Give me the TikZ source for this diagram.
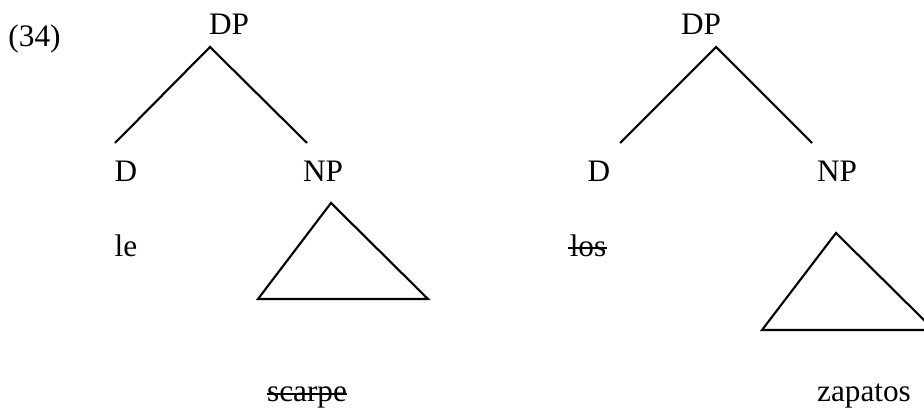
\documentclass[tikz,border=0pt]{standalone}
\usepackage{fontspec}
\setmainfont{Liberation Serif}
\usepackage{tikz}

\tikzset{
  cat/.style={font=\fontsize{12.5}{14}\selectfont, anchor=base, inner sep=0pt},
  branch/.style={line width=0.85pt},
  strk/.style={line width=0.7pt}
}

\begin{document}
\begin{tikzpicture}[x=0.4pt,y=-0.4pt]
    \useasboundingbox (0,0) rectangle (924,410);
    \node[cat,anchor=base west] (ex) at (8,47) {(34)};
    % left tree
    \node[cat] (dpL) at (229,35) {DP};
    \node[cat] (dL) at (126,182) {D};
    \node[cat] (npL) at (323,182) {NP};
    \node[cat] (le) at (126,257) {le};
    \node[cat] (scarpe) at (307,402) {scarpe};
    \coordinate (topL) at (210,47);
    \coordinate (endDL) at (115,143);
    \coordinate (endNL) at (307,143);
    \draw[branch] (endDL) -- (topL) -- (endNL);
    \draw[branch] (331,203) -- (258,299) -- (428,299) -- cycle;
    \draw[strk] ([yshift=3.3pt]scarpe.base west) -- ([yshift=3.3pt]scarpe.base east);
    % right tree
    \node[cat] (dpR) at (701,35) {DP};
    \node[cat] (dR) at (599,182) {D};
    \node[cat] (npR) at (837,182) {NP};
    \node[cat] (los) at (588,257) {los};
    \node[cat] (zapatos) at (864,402) {zapatos};
    \coordinate (topR) at (716,47);
    \coordinate (endDR) at (620,143);
    \coordinate (endNR) at (812,143);
    \draw[branch] (endDR) -- (topR) -- (endNR);
    \draw[branch] (836,233) -- (762,330) -- (934,330) -- cycle;
    \draw[strk] ([xshift=-0.5pt,yshift=3.6pt]los.base west) -- ([yshift=3.6pt]los.base east);
\end{tikzpicture}
\end{document}
